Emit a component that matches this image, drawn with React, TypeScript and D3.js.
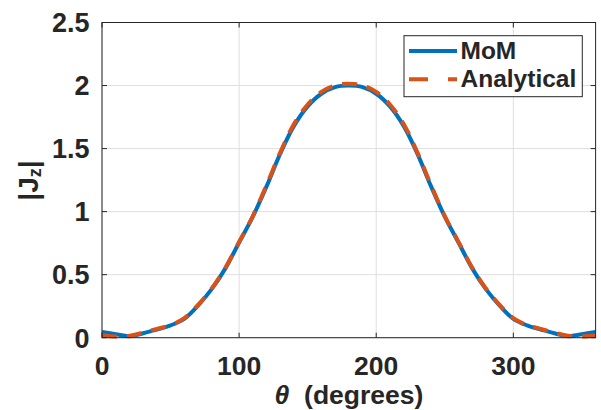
import React from "react";
import * as d3 from "d3";

// angle samples in degrees
const theta = [
  0, 10, 20, 30, 40, 50, 60, 70, 80, 90, 100, 110, 120, 130, 140, 150, 160, 170, 180,
  190, 200, 210, 220, 230, 240, 250, 260, 270, 280, 290, 300, 310, 320, 330, 340, 350, 360,
];

const momValues = [
  0.045, 0.028, 0.012, 0.035, 0.065, 0.098, 0.15, 0.255, 0.385, 0.55, 0.755, 0.96, 1.2, 1.46,
  1.68, 1.835, 1.935, 1.988, 2.0, 1.988, 1.935, 1.835, 1.68, 1.46, 1.2, 0.96, 0.755, 0.55,
  0.385, 0.255, 0.15, 0.098, 0.065, 0.035, 0.012, 0.028, 0.045,
];

const analyticalValues = [
  0.02, 0.01, 0.015, 0.04, 0.07, 0.1, 0.155, 0.26, 0.39, 0.555, 0.76, 0.965, 1.21, 1.47,
  1.695, 1.85, 1.95, 2.0, 2.015, 2.0, 1.95, 1.85, 1.695, 1.47, 1.21, 0.965, 0.76, 0.555,
  0.39, 0.26, 0.155, 0.1, 0.07, 0.04, 0.015, 0.01, 0.02,
];

const xTicks = [0, 100, 200, 300];
const yTicks = [0, 0.5, 1, 1.5, 2, 2.5];
const seriesNames = ["MoM", "Analytical"];

const W = 601;
const H = 410;
const left = 102;
const right = 595.6;
const top = 22.5;
const bottom = 337.7;

const BLUE = "#0072BD";
const ORANGE = "#D95319";
const AXIS = "#262626";
const FONT = "'Liberation Sans', Arial, sans-serif";

export default function App() {
  const x = d3.scaleLinear().domain([0, 360]).range([left, right]);
  const y = d3.scaleLinear().domain([0, 2.5]).range([bottom, top]);

  const mk = (vals: number[]) =>
    d3
      .line<number>()
      .x((_, i) => x(theta[i]))
      .y((d) => y(d))
      .curve(d3.curveCatmullRom.alpha(0.5))(vals) || "";

  const tick = 5;

  return (
    <svg
      width={W}
      height={H}
      style={{ position: "absolute", left: 0, top: 0, background: "#fff" }}
      fontFamily={FONT}
    >
      {/* grid */}
      {xTicks.map((t) => (
        <line key={"gx" + t} x1={x(t)} x2={x(t)} y1={top} y2={bottom} stroke="#dfdfdf" strokeWidth={1} />
      ))}
      {yTicks.map((t) => (
        <line key={"gy" + t} x1={left} x2={right} y1={y(t)} y2={y(t)} stroke="#dfdfdf" strokeWidth={1} />
      ))}

      {/* curves */}
      <path d={mk(momValues)} fill="none" stroke={BLUE} strokeWidth={4} />
      <path d={mk(analyticalValues)} fill="none" stroke={ORANGE} strokeWidth={4} strokeDasharray="15 10" />

      {/* box and ticks */}
      <rect x={left} y={top} width={right - left} height={bottom - top} fill="none" stroke={AXIS} strokeWidth={1} />
      {xTicks.map((t) => (
        <g key={"tx" + t}>
          <line x1={x(t)} x2={x(t)} y1={bottom} y2={bottom - tick} stroke={AXIS} />
          <line x1={x(t)} x2={x(t)} y1={top} y2={top + tick} stroke={AXIS} />
          <text x={x(t)} y={374.5} textAnchor="middle" fontSize={26.5} fontWeight="bold" fill={AXIS}>
            {t}
          </text>
        </g>
      ))}
      {yTicks.map((t) => (
        <g key={"ty" + t}>
          <line x1={left} x2={left + tick} y1={y(t)} y2={y(t)} stroke={AXIS} />
          <line x1={right} x2={right - tick} y1={y(t)} y2={y(t)} stroke={AXIS} />
          <text x={89.5} y={y(t) + 9.8} textAnchor="end" fontSize={27} fontWeight="bold" fill={AXIS}>
            {t}
          </text>
        </g>
      ))}

      {/* axis labels */}
      <text x={349} y={403.5} textAnchor="middle" fontSize={26.5} fontWeight="bold" fill={AXIS}>
        <tspan fontStyle="italic">θ</tspan>
        <tspan>{"\u00a0\u00a0(degrees)"}</tspan>
      </text>
      <text
        transform={`translate(38, 180.5) rotate(-90)`}
        textAnchor="middle"
        fontSize={28}
        fontWeight="bold"
        fill={AXIS}
      >
        |J
        <tspan fontSize={18} dy={3}>z</tspan>
        <tspan dy={-3}>|</tspan>
      </text>

      {/* legend */}
      <rect x={404} y={35.7} width={178.3} height={61} fill="#fff" stroke={AXIS} strokeWidth={1} />
      {seriesNames.map((name, i) => (
        <g key={name}>
          <line
            x1={409}
            x2={457}
            y1={51 + i * 28.3}
            y2={51 + i * 28.3}
            stroke={i === 0 ? BLUE : ORANGE}
            strokeWidth={4}
            strokeDasharray={i === 0 ? undefined : "19 20"}
          />
          <text x={460.5} y={59.3 + i * 28} fontSize={24.5} fontWeight="bold" fill={AXIS}>
            {name}
          </text>
        </g>
      ))}
    </svg>
  );
}
